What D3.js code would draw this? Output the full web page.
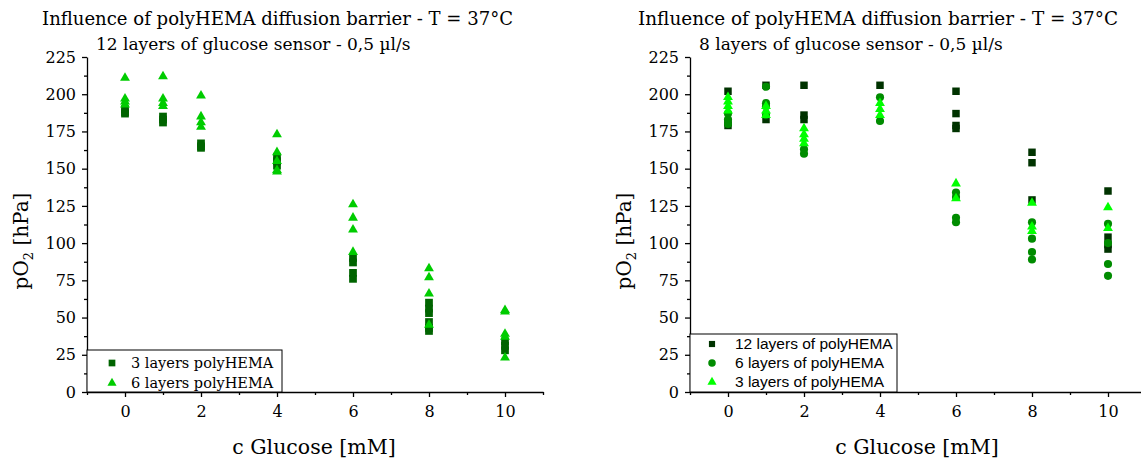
<!DOCTYPE html>
<html><head><meta charset="utf-8">
<script src="https://cdn.jsdelivr.net/npm/d3@7"></script>
<style>body{margin:0;background:#fff} svg{display:block}</style>
</head><body>
<svg id="chart" width="1141" height="461"></svg>
<script>
// Glucose concentrations (mM) at which replicates were measured
const concentrations = [0, 1, 2, 4, 6, 8, 10];
const xTickLabels = [0, 2, 4, 6, 8, 10];
const xMinorTicks = [-1, 1, 3, 5, 7, 9, 11];
const yTickLabels = [0, 25, 50, 75, 100, 125, 150, 175, 200, 225];
const yMinorTicks = [12.5, 37.5, 62.5, 87.5, 112.5, 137.5, 162.5, 187.5, 212.5];

// 12-layer glucose sensor, pO2 replicates (hPa) per concentration
const sensor12_poly3 = [
  [190, 188, 187], [185, 183, 181], [167, 165, 164], [158, 155, 152],
  [90, 87, 80, 76], [60, 56, 53, 47, 43, 41], [34, 31, 28]
];
const sensor12_poly6 = [
  [211, 197, 195, 193], [212, 197, 194, 192], [199, 185, 181, 178],
  [173, 161, 155, 149, 148], [126, 117, 109, 94], [83, 77, 66, 45],
  [55, 54, 39, 37, 23]
];

// 8-layer glucose sensor, pO2 replicates (hPa) per concentration
const sensor8_poly12 = [
  [202, 181, 179], [206, 183], [206, 186, 183], [206],
  [202, 187, 179, 177], [161, 154, 129], [135, 104, 99, 96]
];
const sensor8_poly6 = [
  [187, 183, 180], [205, 194, 192, 186], [163, 160], [198, 182],
  [134, 131, 117, 114], [114, 103, 94, 89], [113, 100, 86, 78]
];
const sensor8_poly3 = [
  [198, 195, 192, 189], [192, 189, 186], [177, 173, 170, 167],
  [194, 190, 186], [140, 130], [127, 111, 108], [124, 110]
];

const titleLine1 = "Influence of polyHEMA diffusion barrier - T = 37°C";

const serif = "'DejaVu Serif', serif";
const sans = "'Liberation Sans', Arial, sans-serif";

const svg = d3.select("#chart");

function flatten(series) {
  const pts = [];
  series.forEach((vals, i) => vals.forEach(v => pts.push({ c: concentrations[i], v })));
  return pts;
}

const shapes = {
  square: d3.symbolSquare,
  circle: d3.symbolCircle,
  triangle: d3.symbolTriangle
};

function drawPanel(opt) {
  const g = svg.append("g");
  const x = d3.scaleLinear().domain([-1, 11]).range([opt.left, opt.left + 456]);
  const y = d3.scaleLinear().domain([0, 225]).range([392, 57]);

  // minor ticks first
  g.append("g").attr("transform", `translate(0,392)`)
    .call(d3.axisBottom(x).tickValues(xMinorTicks).tickSize(3).tickSizeOuter(0).tickFormat(""))
    .call(a => a.select(".domain").remove());
  g.append("g").attr("transform", `translate(${opt.left},0)`)
    .call(d3.axisLeft(y).tickValues(yMinorTicks).tickSize(3).tickSizeOuter(0).tickFormat(""))
    .call(a => a.select(".domain").remove());

  const xa = g.append("g").attr("transform", `translate(0,392)`)
    .call(d3.axisBottom(x).tickValues(xTickLabels).tickSize(5).tickSizeOuter(0).tickPadding(9));
  const ya = g.append("g").attr("transform", `translate(${opt.left},0)`)
    .call(d3.axisLeft(y).tickValues(yTickLabels).tickSize(5).tickSizeOuter(0).tickPadding(6));

  g.selectAll(".tick line, .domain").attr("stroke", "#000").attr("stroke-width", 1.3);
  [xa, ya].forEach(a => a.selectAll("text").attr("font-family", serif).attr("font-size", 16).attr("fill", "#000"));

  // markers
  opt.series.forEach(s => {
    g.append("g").selectAll("path").data(flatten(s.data)).join("path")
      .attr("transform", d => `translate(${x(d.c)},${y(d.v)})`)
      .attr("d", d3.symbol(shapes[s.shape], s.size))
      .attr("fill", s.color);
  });

  // titles
  g.append("text").attr("x", opt.t1x).attr("y", 25).attr("font-family", serif)
    .attr("font-size", 18).attr("textLength", opt.t1w).attr("lengthAdjust", "spacingAndGlyphs")
    .text(titleLine1);
  g.append("text").attr("x", opt.t2x).attr("y", 50).attr("font-family", serif)
    .attr("font-size", 17).text(opt.subtitle);

  // axis titles
  g.append("text").attr("x", x(5) - 1).attr("y", 454).attr("text-anchor", "middle")
    .attr("font-family", serif).attr("font-size", 20.5).text("c Glucose [mM]");
  const yl = g.append("text").attr("transform", `translate(${opt.left - 59},241) rotate(-90)`)
    .attr("text-anchor", "middle").attr("font-family", serif).attr("font-size", 20);
  yl.append("tspan").text("pO");
  yl.append("tspan").attr("font-size", 13).attr("dy", 5).text("2");
  yl.append("tspan").attr("dy", -5).text(" [hPa]");

  // legend
  const L = opt.legend;
  g.append("rect").attr("x", opt.left).attr("y", L.top).attr("width", L.width)
    .attr("height", 392 - L.top).attr("fill", "#fff").attr("stroke", "#000").attr("stroke-width", 1);
  opt.series.forEach((s, i) => {
    const cy = L.firstRow + i * L.rowGap;
    g.append("path").attr("transform", `translate(${opt.left + L.markerDx},${cy})`)
      .attr("d", d3.symbol(shapes[s.shape], s.legendSize)).attr("fill", s.color);
    g.append("text").attr("x", opt.left + L.textDx).attr("y", cy + 5)
      .attr("font-family", L.font).attr("font-size", L.fontSize).text(s.label);
  });
}

drawPanel({
  left: 87, t1x: 42, t1w: 471, t2x: 96,
  subtitle: "12 layers of glucose sensor - 0,5 µl/s",
  series: [
    { data: sensor12_poly3, shape: "square", size: 60, legendSize: 45, color: "#006400", label: "3 layers polyHEMA" },
    { data: sensor12_poly6, shape: "triangle", size: 42, legendSize: 36, color: "#00cc00", label: "6 layers polyHEMA" }
  ],
  legend: { top: 350, width: 195, firstRow: 363, rowGap: 20, markerDx: 25, textDx: 44, font: serif, fontSize: 14.5 }
});

drawPanel({
  left: 690, t1x: 638, t1w: 480, t2x: 699,
  subtitle: "8 layers of glucose sensor - 0,5 µl/s",
  series: [
    { data: sensor8_poly12, shape: "square", size: 56, legendSize: 38, color: "#003300", label: "12 layers of polyHEMA" },
    { data: sensor8_poly6, shape: "circle", size: 52, legendSize: 44, color: "#008c00", label: "6 layers of polyHEMA" },
    { data: sensor8_poly3, shape: "triangle", size: 42, legendSize: 36, color: "#00ff00", label: "3 layers of polyHEMA" }
  ],
  legend: { top: 334, width: 207, firstRow: 344, rowGap: 19, markerDx: 22, textDx: 45, font: sans, fontSize: 15.5 }
});
</script>
</body></html>
